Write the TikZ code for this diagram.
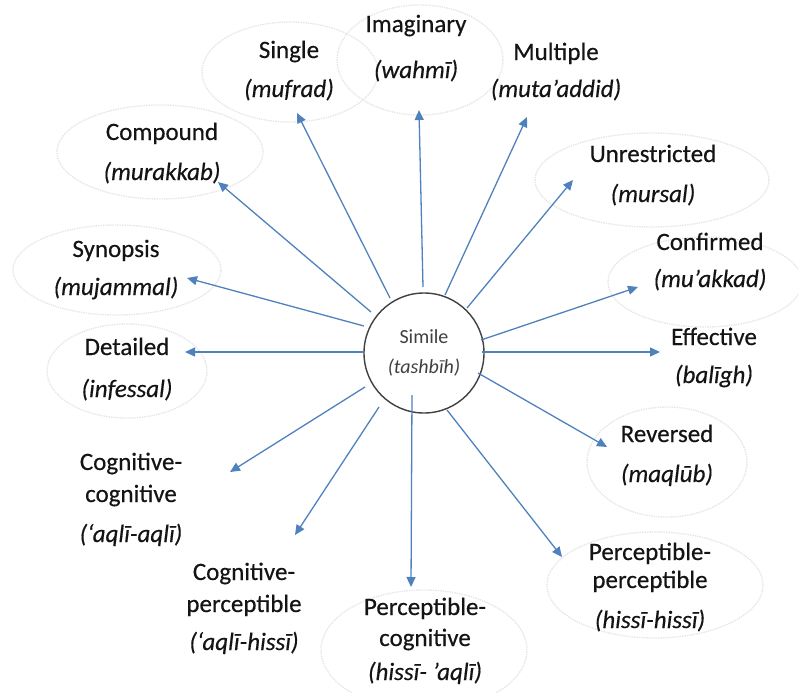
\documentclass[tikz,border=0pt]{standalone}
\usepackage{fontspec}
\setmainfont{Carlito}
\usetikzlibrary{arrows.meta}
\definecolor{arrowblue}{HTML}{4F81BD}
\definecolor{halo}{HTML}{E6E6E6}
\definecolor{ink}{HTML}{141414}
\definecolor{hubink}{HTML}{404040}

\begin{document}
\begin{tikzpicture}[x=1pt,y=-1pt,
  term/.style={anchor=base, align=center, inner sep=0pt, text=ink,
    font=\fontsize{25}{32}\selectfont\addfontfeature{FakeBold=0.4}},
  link/.style={draw=arrowblue, line width=1.3pt, -{Triangle[length=10pt,width=9pt]}},
  halo/.style={draw=halo, line width=1.4pt, densely dotted},
  hub/.style={circle, draw=hubink, line width=1.4pt, fill=white,
    minimum size=120pt, inner sep=0pt, align=center, text=hubink,
    font=\fontsize{20}{30}\selectfont}]

\useasboundingbox (0,0) rectangle (798,693);

% faint dotted outlines behind the terms
\draw[halo] (290,72)  ellipse [x radius=88pt,  y radius=50pt];
\draw[halo] (420,60)  ellipse [x radius=83pt,  y radius=55pt];
\draw[halo] (160,152) ellipse [x radius=103pt, y radius=47pt];
\draw[halo] (117,270) ellipse [x radius=104pt, y radius=45pt];
\draw[halo] (127,371) ellipse [x radius=80pt,  y radius=47pt];
\draw[halo] (652,180) ellipse [x radius=117pt, y radius=47pt];
\draw[halo] (705,282) ellipse [x radius=97pt,  y radius=45pt];
\draw[halo] (667,462) ellipse [x radius=80pt,  y radius=55pt];
\draw[halo] (655,585) ellipse [x radius=108pt, y radius=53pt];
\draw[halo] (424,650) ellipse [x radius=103pt, y radius=60pt];

% central concept
\node[hub] (hub) at (424,353) {Simile\\\textit{(tashbīh)}};

% kinds of simile (each placed at the baseline of its last line)
\node[term] (imaginary)    at (416,78)  {Imaginary\\[14pt]\textit{(wahmī)}};
\node[term] (single)       at (289,97)  {Single\\[7pt]\textit{(mufrad)}};
\node[term] (multiple)     at (556,97)  {Multiple\\[5pt]\textit{(muta’addid)}};
\node[term] (compound)     at (162,180) {Compound\\[8pt]\textit{(murakkab)}};
\node[term] (unrestricted) at (653,202) {Unrestricted\\[8pt]\textit{(mursal)}};
\node[term] (synopsis)     at (116,295) {Synopsis\\[6pt]\textit{(mujammal)}};
\node[term] (confirmed)    at (710,287) {Confirmed\\[5pt]\textit{(mu’akkad)}};
\node[term] (detailed)     at (127,397) {Detailed\\[10pt]\textit{(infessal)}};
\node[term] (effective)    at (714,383) {Effective\\[6pt]\textit{(balīgh)}};
\node[term] (reversed)     at (667,482) {Reversed\\[8pt]\textit{(maqlūb)}};
\node[term] (cogcog)       at (131,542) {Cognitive-\\cognitive\\[8pt]\textit{(‘aqlī-aqlī)}};
\node[term] (cogper)       at (244,650) {Cognitive-\\perceptible\\[6pt]\textit{(‘aqlī-hissī)}};
\node[term] (percog)       at (425,680) {Perceptible-\\[-1pt]cognitive\\[2pt]\textit{(hissī- ’aqlī)}};
\node[term] (perper)       at (650,628) {Perceptible-\\[-4pt]perceptible\\[8pt]\textit{(hissī-hissī)}};

% arrow start points at the hub and tips next to each term
\coordinate (s-imaginary)    at (423,287); \coordinate (t-imaginary)    at (419,110);
\coordinate (s-single)       at (390,298); \coordinate (t-single)       at (297,113);
\coordinate (s-multiple)     at (445,295); \coordinate (t-multiple)     at (527,117);
\coordinate (s-unrestricted) at (467,308); \coordinate (t-unrestricted) at (573,180);
\coordinate (s-confirmed)    at (481,340); \coordinate (t-confirmed)    at (638,287);
\coordinate (s-effective)    at (482,352); \coordinate (t-effective)    at (660,352);
\coordinate (s-reversed)     at (478,373); \coordinate (t-reversed)     at (607,447);
\coordinate (s-perper)       at (447,410); \coordinate (t-perper)       at (562,557);
\coordinate (s-percog)       at (412,395); \coordinate (t-percog)       at (411,587);
\coordinate (s-cogper)       at (379,407); \coordinate (t-cogper)       at (295,535);
\coordinate (s-cogcog)       at (365,387); \coordinate (t-cogcog)       at (230,472);
\coordinate (s-detailed)     at (364,352); \coordinate (t-detailed)     at (185,352);
\coordinate (s-synopsis)     at (364,326); \coordinate (t-synopsis)     at (187,278);
\coordinate (s-compound)     at (371,312); \coordinate (t-compound)     at (218,182);

\foreach \k in {imaginary,single,multiple,unrestricted,confirmed,effective,reversed,
                perper,percog,cogper,cogcog,detailed,synopsis,compound}
  \draw[link] (s-\k) -- (t-\k);
\end{tikzpicture}
\end{document}
